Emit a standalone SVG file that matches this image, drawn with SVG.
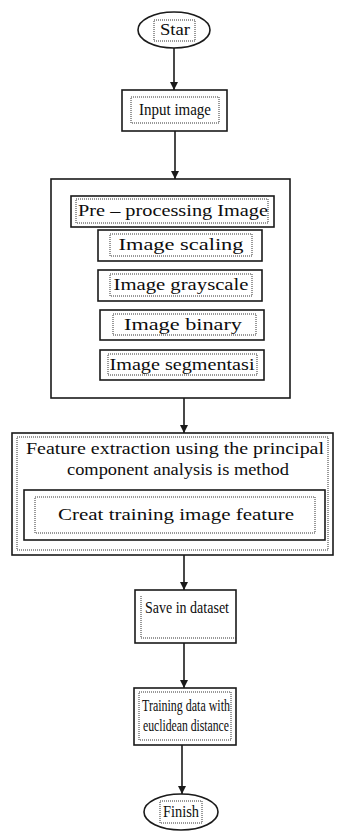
<svg xmlns="http://www.w3.org/2000/svg" width="340" height="833" viewBox="0 0 340 833">
<defs>
<style>
.s{fill:#fff;stroke:#1a1a1a;stroke-width:1.6}
.d{fill:none;stroke:#333;stroke-width:1;stroke-dasharray:1 1}
.t{font-family:"Liberation Serif",serif;font-size:16px;fill:#0d0d0d;text-anchor:middle}
.c{stroke:#1a1a1a;stroke-width:1.6;fill:none}
</style>
<marker id="ah" viewBox="0 0 8 8" refX="8" refY="4" markerWidth="8" markerHeight="8" markerUnits="userSpaceOnUse" orient="auto"><path d="M0,0 L8,4 L0,8 z" fill="#1a1a1a"/></marker>
</defs>
<rect width="340" height="833" fill="#fff"/>
<g id="connectors">
<line class="c" x1="174" y1="48" x2="174" y2="90" marker-end="url(#ah)"/>
<line class="c" x1="175" y1="131" x2="175" y2="179" marker-end="url(#ah)"/>
<line class="c" x1="184" y1="398" x2="184" y2="433" marker-end="url(#ah)"/>
<line class="c" x1="184" y1="555" x2="184" y2="590" marker-end="url(#ah)"/>
<line class="c" x1="184" y1="643" x2="184" y2="688" marker-end="url(#ah)"/>
<line class="c" x1="182" y1="745" x2="182" y2="794" marker-end="url(#ah)"/>
</g>
<g id="start">
<ellipse class="s" cx="174" cy="30" rx="36" ry="18"/>
<rect class="d" x="154" y="20" width="41" height="21"/>
<text class="t" x="175" y="35" textLength="30" lengthAdjust="spacingAndGlyphs">Star</text>
</g>
<g id="input">
<rect class="s" x="122" y="90" width="105" height="41"/>
<rect class="d" x="131" y="97" width="88" height="26"/>
<text class="t" x="175" y="115" textLength="72" lengthAdjust="spacingAndGlyphs">Input image</text>
</g>
<g id="preprocess">
<rect class="s" x="51" y="179" width="239" height="219"/>
<g id="pre">
<rect class="s" x="71" y="196" width="203" height="31"/>
<rect class="d" x="76" y="199" width="192" height="24"/>
<text class="t" x="173" y="216" textLength="190" lengthAdjust="spacingAndGlyphs">Pre – processing Image</text>
</g>
<g id="scaling">
<rect class="s" x="98" y="230" width="164" height="31"/>
<rect class="d" x="110" y="234" width="142" height="22"/>
<text class="t" x="181" y="250" textLength="125" lengthAdjust="spacingAndGlyphs">Image  scaling</text>
</g>
<g id="grayscale">
<rect class="s" x="98" y="270" width="164" height="31"/>
<rect class="d" x="110" y="274" width="142" height="22"/>
<text class="t" x="181" y="290" textLength="135" lengthAdjust="spacingAndGlyphs">Image grayscale</text>
</g>
<g id="binary">
<rect class="s" x="100" y="310" width="164" height="30"/>
<rect class="d" x="113" y="314" width="143" height="21"/>
<text class="t" x="183" y="330" textLength="118" lengthAdjust="spacingAndGlyphs">Image binary</text>
</g>
<g id="segment">
<rect class="s" x="100" y="350" width="164" height="30"/>
<rect class="d" x="108" y="354" width="149" height="21"/>
<text class="t" x="182" y="370" textLength="145" lengthAdjust="spacingAndGlyphs">Image segmentasi</text>
</g>
</g>
<g id="feature">
<rect class="s" x="12" y="433" width="321" height="122"/>
<rect class="d" x="17" y="437" width="311" height="113"/>
<text class="t" x="175" y="454" textLength="298" lengthAdjust="spacingAndGlyphs">Feature extraction using the principal</text>
<text class="t" x="178" y="475" textLength="222" lengthAdjust="spacingAndGlyphs">component analysis is method</text>
<g id="creat">
<rect class="s" x="24" y="490" width="301" height="50"/>
<rect class="d" x="35" y="497" width="280" height="36"/>
<text class="t" x="176" y="520" textLength="236" lengthAdjust="spacingAndGlyphs">Creat training image feature</text>
</g>
</g>
<g id="save">
<rect class="s" x="135" y="590" width="101" height="53"/>
<path class="d" d="M141,596 V638 H236"/>
<text class="t" x="187" y="613" textLength="84" lengthAdjust="spacingAndGlyphs">Save in dataset</text>
</g>
<g id="training">
<rect class="s" x="134" y="688" width="102" height="57"/>
<rect class="d" x="139" y="692" width="92" height="48"/>
<text class="t" x="186" y="711" textLength="88" lengthAdjust="spacingAndGlyphs">Training data with</text>
<text class="t" x="186" y="731" textLength="86" lengthAdjust="spacingAndGlyphs">euclidean distance</text>
</g>
<g id="finish">
<ellipse class="s" cx="181" cy="812" rx="37" ry="18"/>
<rect class="d" x="160" y="801" width="42" height="22"/>
<text class="t" x="181" y="817" textLength="36" lengthAdjust="spacingAndGlyphs">Finish</text>
</g>
</svg>
